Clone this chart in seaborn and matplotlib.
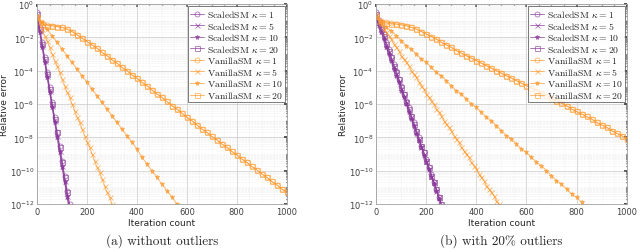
import numpy as np
import matplotlib
matplotlib.use("Agg")
import matplotlib.pyplot as plt
import seaborn as sns
from matplotlib.ticker import FixedLocator, LogLocator, MultipleLocator, NullFormatter, LogFormatterSciNotation

sns.set_theme(style="white")
plt.rcParams["font.family"] = ["DejaVu Sans"]
plt.rcParams["mathtext.fontset"] = "cm"

purple = "#8A3A9A"
orange = "#FF9A2E"

# ---- (a) without outliers: log10(relative error) ----
a_it_sc = [0, 10, 20, 30, 40, 50, 60, 70, 80, 90, 100, 110, 120, 130]
a_sc1 = [-0.5, -1.4, -2.3, -3.2, -4.1, -5.0, -5.9, -6.8, -7.7, -8.5, -9.4, -10.3, -11.2, -12.0]
a_sc5 = [-0.8, -1.6, -2.5, -3.4, -4.3, -5.2, -6.1, -7.0, -7.9, -8.8, -9.7, -10.6, -11.5, -12.3]
a_sc10 = [-0.9, -1.7, -2.6, -3.5, -4.4, -5.3, -6.2, -7.1, -8.0, -8.9, -9.8, -10.7, -11.6, -12.4]
a_sc20 = [-0.6, -1.5, -2.4, -3.3, -4.2, -5.1, -6.0, -6.9, -7.7, -8.6, -9.5, -10.4, -11.3, -12.1]

a_it_v5 = [0, 10, 20, 30, 40, 50, 60, 70, 80, 90, 100, 110, 120, 130, 140, 150,
           160, 170, 180, 190, 200, 210, 220, 230, 240, 250, 260, 270, 280, 290, 300]
a_v5 = [-0.8, -1.1, -1.5, -1.9, -2.2, -2.6, -3.0, -3.4, -3.7, -4.1, -4.5, -4.9, -5.3, -5.6, -6.0, -6.4,
        -6.8, -7.1, -7.5, -7.9, -8.3, -8.6, -9.0, -9.4, -9.8, -10.1, -10.5, -10.9, -11.3, -11.6, -12.0]

a_it_v10 = [0, 20, 40, 60, 80, 100, 120, 140, 160, 180, 200, 220, 240, 260, 280,
            300, 320, 340, 360, 380, 400, 420, 440, 460, 480, 500, 520, 540, 560]
a_v10 = [-0.7, -1.1, -1.5, -1.9, -2.3, -2.7, -3.1, -3.5, -3.9, -4.3, -4.7, -5.1, -5.5, -5.9, -6.3,
         -6.7, -7.1, -7.5, -7.9, -8.3, -8.7, -9.2, -9.6, -10.0, -10.4, -10.8, -11.2, -11.6, -12.0]

a_it_v20 = [0, 20, 40, 60, 80, 100, 120, 140, 160, 180, 200, 220, 240, 260, 280, 300, 320,
            340, 360, 380, 400, 420, 440, 460, 480, 500, 520, 540, 560, 580, 600, 620, 640,
            660, 680, 700, 720, 740, 760, 780, 800, 820, 840, 860, 880, 900, 920, 940, 960, 980, 1000]
a_v20 = [-0.8, -1.2, -1.3, -1.3, -1.35, -1.4, -1.5, -1.65, -1.85, -2.05, -2.25, -2.45, -2.65,
         -2.9, -3.1, -3.35, -3.55, -3.8, -4.0, -4.25, -4.45, -4.7, -4.9, -5.15, -5.4, -5.6, -5.85,
         -6.1, -6.3, -6.55, -6.8, -7.0, -7.25, -7.5, -7.7, -7.95, -8.15, -8.4, -8.6, -8.85, -9.05,
         -9.3, -9.5, -9.75, -9.95, -10.2, -10.4, -10.65, -10.85, -11.1, -11.3]
a_v1 = [-0.75, -1.15, -1.25, -1.3, -1.35, -1.4, -1.5, -1.65, -1.85, -2.05, -2.25, -2.45, -2.65,
        -2.9, -3.1, -3.35, -3.55, -3.8, -4.0, -4.25, -4.45, -4.7, -4.9, -5.15, -5.4, -5.6, -5.85,
        -6.1, -6.3, -6.55, -6.8, -7.0, -7.25, -7.5, -7.7, -7.95, -8.15, -8.4, -8.6, -8.85, -9.05,
        -9.3, -9.5, -9.75, -9.95, -10.2, -10.4, -10.65, -10.85, -11.1, -11.3]

# ---- (b) with 20% outliers ----
b_it_sc = [0, 10, 20, 30, 40, 50, 60, 70, 80, 90, 100, 110, 120, 130,
           140, 150, 160, 170, 180, 190, 200, 210, 220, 230, 240, 250, 260]
b_sc1 = [-0.5, -0.95, -1.4, -1.8, -2.3, -2.7, -3.2, -3.6, -4.0, -4.5, -4.9, -5.4, -5.8, -6.2,
         -6.7, -7.1, -7.6, -8.0, -8.5, -8.9, -9.3, -9.8, -10.2, -10.7, -11.1, -11.6, -12.0]
b_sc5 = [-0.8, -1.2, -1.6, -2.0, -2.5, -2.9, -3.3, -3.8, -4.2, -4.6, -5.1, -5.5, -5.9, -6.4,
         -6.8, -7.3, -7.7, -8.1, -8.6, -9.0, -9.4, -9.9, -10.3, -10.7, -11.2, -11.6, -12.1]
b_sc10 = [-0.9, -1.3, -1.7, -2.1, -2.6, -3.0, -3.4, -3.9, -4.3, -4.7, -5.2, -5.6, -6.0, -6.5,
          -6.9, -7.3, -7.8, -8.2, -8.6, -9.1, -9.5, -9.9, -10.4, -10.8, -11.2, -11.7, -12.1]
b_sc20 = [-0.6, -1.05, -1.5, -1.9, -2.4, -2.8, -3.2, -3.7, -4.1, -4.5, -5.0, -5.4, -5.9, -6.3,
          -6.7, -7.2, -7.6, -8.1, -8.5, -8.9, -9.4, -9.8, -10.3, -10.7, -11.1, -11.6, -12.0]

b_it_v5 = [0, 10, 20, 30, 40, 50, 60, 70, 80, 90, 100, 110, 120, 130, 140, 150, 160, 170,
           180, 190, 200, 210, 220, 230, 240, 250, 260, 270, 280, 290, 300, 310, 320, 330,
           340, 350, 360, 370, 380, 390, 400, 410, 420, 430, 440, 450, 460, 470, 480, 490]
b_v5 = [-0.8, -1.0, -1.2, -1.5, -1.7, -1.9, -2.1, -2.4, -2.6, -2.8, -3.1, -3.3, -3.5, -3.7,
        -4.0, -4.2, -4.4, -4.7, -4.9, -5.1, -5.4, -5.6, -5.8, -6.0, -6.3, -6.5, -6.7, -7.0,
        -7.2, -7.4, -7.6, -7.9, -8.1, -8.3, -8.6, -8.8, -9.0, -9.2, -9.5, -9.7, -9.9, -10.2,
        -10.4, -10.6, -10.9, -11.1, -11.3, -11.5, -11.8, -12.0]

b_it_v10 = [0, 20, 40, 60, 80, 100, 120, 140, 160, 180, 200, 220, 240, 260, 280, 300, 320,
            340, 360, 380, 400, 420, 440, 460, 480, 500, 520, 540, 560, 580, 600, 620, 640,
            660, 680, 700, 720, 740, 760, 780, 800, 820, 840]
b_v10 = [-0.8, -1.1, -1.4, -1.6, -1.9, -2.2, -2.5, -2.7, -3.0, -3.3, -3.5, -3.8, -4.1, -4.3,
         -4.6, -4.9, -5.2, -5.4, -5.7, -6.0, -6.2, -6.5, -6.8, -7.0, -7.3, -7.6, -7.9, -8.1,
         -8.4, -8.7, -8.9, -9.2, -9.5, -9.7, -10.0, -10.3, -10.6, -10.8, -11.1, -11.4, -11.6,
         -11.9, -12.2]

b_it_v20 = a_it_v20
b_v20 = [-0.7, -1.05, -1.15, -1.2, -1.2, -1.25, -1.3, -1.4, -1.5, -1.65, -1.8, -1.95, -2.1,
         -2.3, -2.45, -2.6, -2.8, -2.95, -3.1, -3.25, -3.4, -3.55, -3.7, -3.85, -4.0, -4.15,
         -4.3, -4.45, -4.6, -4.75, -4.9, -5.05, -5.2, -5.35, -5.5, -5.65, -5.8, -5.95, -6.1,
         -6.3, -6.45, -6.6, -6.75, -6.9, -7.1, -7.25, -7.4, -7.6, -7.75, -7.9, -8.1]
b_v1 = [-0.65, -1.0, -1.1, -1.15, -1.2, -1.25, -1.3, -1.4, -1.5, -1.65, -1.8, -1.95, -2.1,
        -2.3, -2.45, -2.6, -2.8, -2.95, -3.1, -3.25, -3.4, -3.55, -3.7, -3.85, -4.0, -4.15,
        -4.3, -4.45, -4.6, -4.75, -4.9, -5.05, -5.2, -5.35, -5.5, -5.65, -5.8, -5.95, -6.1,
        -6.3, -6.45, -6.6, -6.75, -6.9, -7.1, -7.25, -7.4, -7.6, -7.75, -7.9, -8.1]

kappas = [1, 5, 10, 20]
markers = ["o", "x", "*", "s"]

panels = [
    ([(a_it_sc, a_sc1), (a_it_sc, a_sc5), (a_it_sc, a_sc10), (a_it_sc, a_sc20)],
     [(a_it_v20, a_v1), (a_it_v5, a_v5), (a_it_v10, a_v10), (a_it_v20, a_v20)],
     "(a) without outliers", -0.112),
    ([(b_it_sc, b_sc1), (b_it_sc, b_sc5), (b_it_sc, b_sc10), (b_it_sc, b_sc20)],
     [(b_it_v20, b_v1), (b_it_v5, b_v5), (b_it_v10, b_v10), (b_it_v20, b_v20)],
     "(b) with 20% outliers", -0.115),
]

fig = plt.figure(figsize=(6.4, 2.53), dpi=100)
axes = [fig.add_axes([0.058, 0.19, 0.39, 0.79]), fig.add_axes([0.588, 0.19, 0.391, 0.79])]

for ax, (scaled, vanilla, caption, ylab_x) in zip(axes, panels):
    handles = []
    for method, runs, color in [("ScaledSM", scaled, purple), ("VanillaSM", vanilla, orange)]:
        for (it, le), k, m in zip(runs, kappas, markers):
            face = "none" if m in ("o", "s") else color
            sns.lineplot(x=it, y=10.0 ** np.array(le), ax=ax, color=color, marker=m,
                         markersize=3.6, markerfacecolor=face, markeredgecolor=color,
                         markeredgewidth=0.6, linewidth=0.7,
                         label=rf"{method} $\kappa = {k}$")
            line = ax.lines[-1]
            line.set_alpha(0.7)
            handles.append(line)
    ax.set_yscale("log")
    ax.set_xlim(0, 1000)
    ax.set_ylim(1e-12, 1)
    ax.yaxis.set_major_locator(FixedLocator([10.0 ** e for e in range(-12, 1, 2)]))
    ax.yaxis.set_major_formatter(LogFormatterSciNotation())
    ax.yaxis.set_minor_locator(LogLocator(base=10, subs=np.arange(1, 10), numticks=30))
    ax.yaxis.set_minor_formatter(NullFormatter())
    ax.xaxis.set_major_locator(MultipleLocator(200))
    ax.xaxis.set_minor_locator(MultipleLocator(50))
    ax.grid(which="major", color="#c8c8c8", linewidth=0.5)
    ax.grid(which="minor", color="#e2e2e2", linewidth=0.4, linestyle=":")
    ax.tick_params(which="both", direction="in", top=True, right=True, labelsize=6,
                   colors="#404040", length=2, pad=2)
    ax.tick_params(which="minor", length=1)
    for s in ax.spines.values():
        s.set_color("#a0a0a0")
        s.set_linewidth(0.6)
    ax.set_xlabel("Iteration count", fontsize=6.5, color="#262626", labelpad=2)
    ax.set_ylabel("Relative error", fontsize=6.5, color="#262626")
    ax.yaxis.set_label_coords(ylab_x, 0.5)
    leg = ax.legend(handles=handles, loc="upper right", prop={"family": "cmr10", "size": 7},
                    handlelength=1.4, handletextpad=0.3, labelspacing=0.06,
                    borderpad=0.25, borderaxespad=0.15, frameon=True, fancybox=False)
    leg.get_frame().set_edgecolor("#404040")
    leg.get_frame().set_linewidth(0.6)
    pos = ax.get_position()
    fig.text(pos.x0 + pos.width / 2, 0.02, caption, ha="center", va="bottom",
             fontsize=9.5, family="cmr10")

fig.savefig("out.png", dpi=100)
